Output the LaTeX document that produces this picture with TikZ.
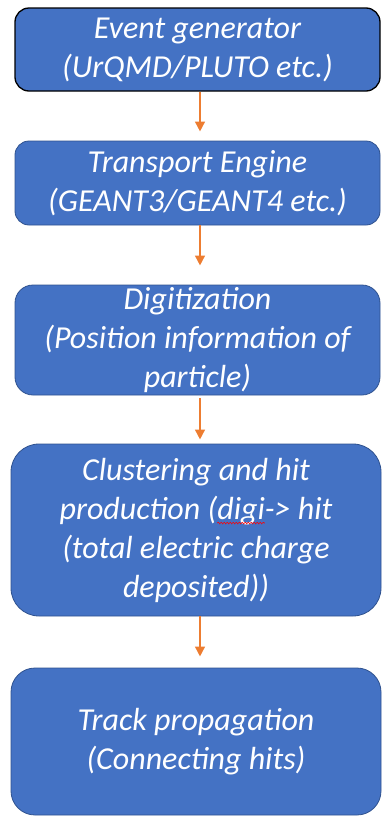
\documentclass[tikz,border=0pt]{standalone}
\usepackage{fontspec}
\setmainfont{Carlito}
\usetikzlibrary{arrows.meta,decorations.pathmorphing}
\definecolor{boxblue}{HTML}{4472C4}
\definecolor{boxedge}{HTML}{2F528F}
\definecolor{arroworange}{HTML}{ED7D31}
\newsavebox\digibox
\newcommand\redwave[1]{\sbox\digibox{#1}\rlap{\usebox\digibox}\tikz[overlay,baseline=0pt,x=1pt,y=1pt,sharp corners]\draw[red, line width=0.6pt, sharp corners, decorate, decoration={snake,amplitude=0.8pt,segment length=3pt}] (0,-4) -- (\the\wd\digibox,-4);\hspace*{\wd\digibox}}
\tikzset{
  flowbox/.style={draw=boxedge, line width=0.8pt, fill=boxblue, text=white,
    align=center, inner sep=0pt, minimum width=#1,
    font=\fontsize{32}{39}\selectfont\itshape},
  flowarrow/.style={draw=arroworange, line width=2.5pt,
    -{Triangle[width=9.5pt,length=10pt]}}
}
\begin{document}
\begin{tikzpicture}[x=1pt,y=-1pt]
\useasboundingbox (0,0) rectangle (381,817);
\coordinate (ax) at (200,0);
\node[flowbox=365pt, minimum height=83pt, rounded corners=14pt, draw=black, line width=1.3pt] (b1) at (197.5,49.5)
  {Event generator\\(UrQMD/PLUTO etc.)};
\node[flowbox=365pt, minimum height=84pt, rounded corners=14pt] (b2) at (197.5,183)
  {Transport Engine\\(GEANT3/GEANT4 etc.)};
\node[flowbox=365pt, minimum height=110pt, rounded corners=18pt] (b3) at (197.5,340)
  {Digitization\\(Position information of\\particle)};
\node[flowbox=370pt, minimum height=172pt, rounded corners=28pt] (b4) at (196,530)
  {Clustering and hit\\production (\redwave{digi}-> hit\\(total electric charge\\deposited))};
\node[flowbox=370pt, minimum height=147pt, rounded corners=24pt] (b5) at (196,741.5)
  {Track propagation\\(Connecting hits)};
\draw[flowarrow, shorten >=9pt] (b1.south -| ax) -- (b2.north -| ax);
\draw[flowarrow, shorten >=19pt] (b2.south -| ax) -- (b3.north -| ax);
\draw[flowarrow, shorten <=3pt, shorten >=4pt] (b3.south -| ax) -- (b4.north -| ax);
\draw[flowarrow, shorten >=11pt] (b4.south -| ax) -- (b5.north -| ax);
\end{tikzpicture}
\end{document}
